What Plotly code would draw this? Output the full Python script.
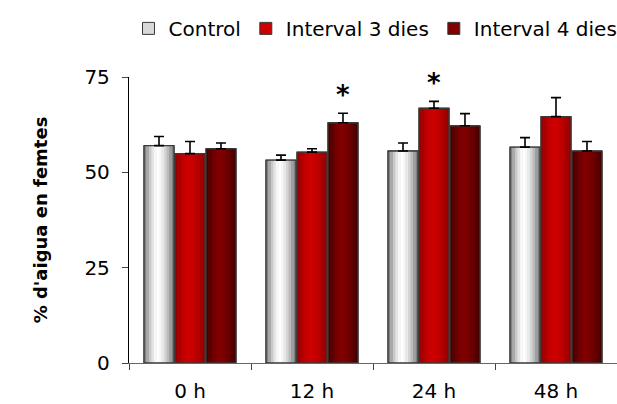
import plotly.graph_objects as go

categories = ["0 h", "12 h", "24 h", "48 h"]
series_names = ["Control", "Interval 3 dies", "Interval 4 dies"]
control = [57.0, 53.2, 55.6, 56.6]
control_err = [2.4, 1.3, 2.1, 2.5]
int3 = [54.9, 55.3, 66.8, 64.6]
int3_err = [3.2, 0.9, 1.8, 5.0]
int4 = [56.2, 63.0, 62.2, 55.6]
int4_err = [1.5, 2.5, 3.2, 2.5]
int3_sig = ["", "", "*", ""]
int4_sig = ["", "*", "", ""]

values = [control, int3, int4]
errors = [control_err, int3_err, int4_err]
sigs = [None, int3_sig, int4_sig]

# style: (edge colour, centre colour, legend colour)
styles = [
    ((110, 110, 110), (255, 255, 255), "#d8d8d8"),
    ((140, 0, 0), (206, 0, 0), "#cc0000"),
    ((60, 0, 0), (128, 0, 0), "#800000"),
]

W = 0.246
GAP = 0.008
START = -(3 * W + 2 * GAP) / 2
NSTRIP = 12
FONT = "DejaVu Sans"

fig = go.Figure()

def mix(c1, c2, t):
    return "rgb(%d,%d,%d)" % tuple(round(a + (b - a) * t) for a, b in zip(c1, c2))

for i, name in enumerate(series_names):
    off = START + i * (W + GAP)
    edge, centre, legc = styles[i]
    # base bar (legend)
    fig.add_trace(go.Bar(x=categories, y=values[i], name=name, width=W, offset=off,
                         marker=dict(color=legc, line=dict(color="#3a3a3a", width=1)),
                         showlegend=True, legendgroup=name))
    # gradient strips
    sw = W / NSTRIP
    peak = 0.45
    for k in range(NSTRIP):
        t = (k + 0.5) / NSTRIP
        d = abs(t - peak) / (peak if t < peak else 1 - peak)
        f = 1 - d ** 1.6
        fig.add_trace(go.Bar(x=categories, y=values[i], width=sw * 1.05, offset=off + k * sw,
                             marker=dict(color=mix(edge, centre, f), line=dict(width=0)),
                             showlegend=False, legendgroup=name, hoverinfo="skip"))
    # outline + error bars
    fig.add_trace(go.Bar(x=categories, y=values[i], width=W, offset=off,
                         marker=dict(color="rgba(0,0,0,0)", line=dict(color="#3a3a3a", width=1.3)),
                         error_y=dict(type="data", symmetric=False, array=errors[i],
                                      arrayminus=[0] * len(errors[i]),
                                      color="black", thickness=1.6, width=5),
                         showlegend=False, legendgroup=name))
    if sigs[i] is not None:
        tops = [v + e for v, e in zip(values[i], errors[i])]
        fig.add_trace(go.Bar(x=categories, y=tops, width=W, offset=off,
                             marker=dict(color="rgba(0,0,0,0)", line=dict(width=0)),
                             text=sigs[i], textposition="outside", cliponaxis=False,
                             textfont=dict(family=FONT, size=26, color="black", weight="bold"),
                             showlegend=False, hoverinfo="skip"))

fig.update_layout(
    barmode="overlay",
    width=617, height=404,
    margin=dict(l=129, r=0, t=77, b=41, autoexpand=False),
    paper_bgcolor="white", plot_bgcolor="white",
    font=dict(family=FONT, size=20, color="black"),
    showlegend=True,
    legend=dict(orientation="h", x=-0.001, xanchor="left",
                y=1.17, yanchor="middle",
                font=dict(size=20), itemwidth=30,
                traceorder="normal", bgcolor="rgba(0,0,0,0)"),
    xaxis=dict(type="category", categoryorder="array", categoryarray=categories,
               showline=True, linecolor="#666", linewidth=1.3, ticks="outside",
               tickson="boundaries", ticklen=6, tickcolor="#444", showgrid=False,
               zeroline=False, ticklabelstandoff=10, range=[-0.5, 3.5], automargin=False),
    yaxis=dict(range=[0, 75], tickvals=[0, 25, 50, 75], showline=True, linecolor="black",
               linewidth=1.3, ticks="outside", ticklen=6, tickcolor="#444",
               showgrid=False, zeroline=False, ticklabelstandoff=8, automargin=False,
               title=dict(text="% d'aigua en femtes", standoff=32,
                          font=dict(family=FONT, size=18, weight="bold"))),
)

fig.write_html("out.html")
